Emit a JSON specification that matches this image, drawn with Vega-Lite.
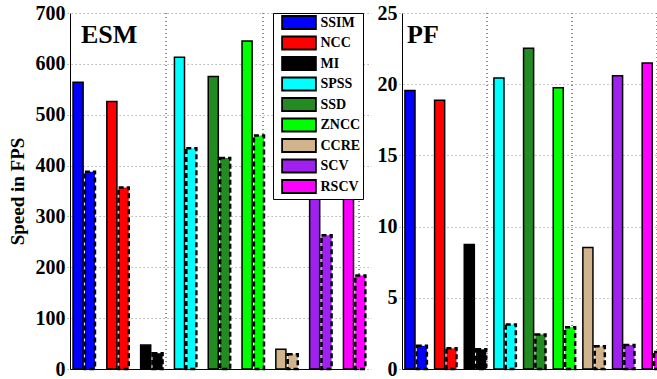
{
  "$schema": "https://vega.github.io/schema/vega-lite/v6.json",
  "padding": {"left": 8, "top": 3, "right": 0, "bottom": 0},
  "background": "white",
  "config": {
    "view": {"stroke": null},
    "font": "Liberation Serif",
    "axis": {
      "labelFont": "Liberation Serif", "labelFontWeight": "bold", "labelFontSize": 20, "labelColor": "black",
      "titleFont": "Liberation Serif", "titleFontWeight": "bold", "titleFontSize": 19, "titleColor": "black",
      "domainColor": "black", "domainWidth": 1,
      "gridColor": "#8c8c8c", "gridDash": [1, 3], "gridOpacity": 1, "gridWidth": 1,
      "ticks": false, "labelPadding": 5
    },
    "rule": {"color": "#8c8c8c", "strokeDash": [1, 3], "strokeWidth": 1},
    "title": {"font": "Liberation Serif", "fontWeight": "bold", "fontSize": 26, "color": "black"}
  },
  "datasets": {
    "speeds": [
      {"tracker": "ESM", "method": "SSIM", "kind": "solid", "fps": 564},
      {"tracker": "ESM", "method": "NCC", "kind": "solid", "fps": 526},
      {"tracker": "ESM", "method": "MI", "kind": "solid", "fps": 47},
      {"tracker": "ESM", "method": "SPSS", "kind": "solid", "fps": 613},
      {"tracker": "ESM", "method": "SSD", "kind": "solid", "fps": 575},
      {"tracker": "ESM", "method": "ZNCC", "kind": "solid", "fps": 645},
      {"tracker": "ESM", "method": "CCRE", "kind": "solid", "fps": 39},
      {"tracker": "ESM", "method": "SCV", "kind": "solid", "fps": 354},
      {"tracker": "ESM", "method": "RSCV", "kind": "solid", "fps": 345},
      {"tracker": "ESM", "method": "SSIM", "kind": "dashed", "fps": 388},
      {"tracker": "ESM", "method": "NCC", "kind": "dashed", "fps": 357},
      {"tracker": "ESM", "method": "MI", "kind": "dashed", "fps": 31},
      {"tracker": "ESM", "method": "SPSS", "kind": "dashed", "fps": 434},
      {"tracker": "ESM", "method": "SSD", "kind": "dashed", "fps": 415},
      {"tracker": "ESM", "method": "ZNCC", "kind": "dashed", "fps": 459},
      {"tracker": "ESM", "method": "CCRE", "kind": "dashed", "fps": 29},
      {"tracker": "ESM", "method": "SCV", "kind": "dashed", "fps": 263},
      {"tracker": "ESM", "method": "RSCV", "kind": "dashed", "fps": 184},
      {"tracker": "PF", "method": "SSIM", "kind": "solid", "fps": 19.56},
      {"tracker": "PF", "method": "NCC", "kind": "solid", "fps": 18.88},
      {"tracker": "PF", "method": "MI", "kind": "solid", "fps": 8.75},
      {"tracker": "PF", "method": "SPSS", "kind": "solid", "fps": 20.43},
      {"tracker": "PF", "method": "SSD", "kind": "solid", "fps": 22.53},
      {"tracker": "PF", "method": "ZNCC", "kind": "solid", "fps": 19.75},
      {"tracker": "PF", "method": "CCRE", "kind": "solid", "fps": 8.54},
      {"tracker": "PF", "method": "SCV", "kind": "solid", "fps": 20.59},
      {"tracker": "PF", "method": "RSCV", "kind": "solid", "fps": 21.48},
      {"tracker": "PF", "method": "SSIM", "kind": "dashed", "fps": 1.63},
      {"tracker": "PF", "method": "NCC", "kind": "dashed", "fps": 1.45},
      {"tracker": "PF", "method": "MI", "kind": "dashed", "fps": 1.38},
      {"tracker": "PF", "method": "SPSS", "kind": "dashed", "fps": 3.13},
      {"tracker": "PF", "method": "SSD", "kind": "dashed", "fps": 2.43},
      {"tracker": "PF", "method": "ZNCC", "kind": "dashed", "fps": 2.94},
      {"tracker": "PF", "method": "CCRE", "kind": "dashed", "fps": 1.59},
      {"tracker": "PF", "method": "SCV", "kind": "dashed", "fps": 1.68},
      {"tracker": "PF", "method": "RSCV", "kind": "dashed", "fps": 1.19}
    ]
  },
  "spacing": 10,
  "resolve": {"legend": {"color": "independent"}},
  "hconcat": [
    {
      "width": 289,
      "height": 356,
      "title": {"text": "ESM", "anchor": "start", "frame": "group", "offset": -66, "dx": 11, "baseline": "alphabetic"},
      "data": {"name": "speeds"},
      "transform": [{"filter": "datum.tracker === 'ESM'"}],
      "resolve": {"scale": {"x": "independent"}, "axis": {"x": "independent"}},
      "layer": [
        {
          "mark": {"type": "rule"},
          "encoding": {"x": {"datum": 1, "type": "quantitative", "scale": {"domain": [0, 3]},
                             "axis": {"orient": "bottom", "grid": false, "labels": false, "ticks": false, "domain": true, "title": null}}}
        },
        {
          "mark": {"type": "rule"},
          "encoding": {"x": {"datum": 2, "type": "quantitative", "scale": {"domain": [0, 3]}, "axis": null}}
        },
        {
          "mark": {"type": "rule"},
          "encoding": {"x": {"datum": 3, "type": "quantitative", "scale": {"domain": [0, 3]}, "axis": null}}
        },
        {
          "mark": {"type": "bar", "stroke": "black"},
          "encoding": {
            "x": {"field": "method", "type": "nominal",
                  "sort": ["SSIM", "NCC", "MI", "SPSS", "SSD", "ZNCC", "CCRE", "SCV", "RSCV"],
                  "scale": {"range": [-2.9, 301.3], "paddingInner": 0, "paddingOuter": 0}, "axis": null},
            "xOffset": {"field": "kind", "type": "nominal", "sort": ["solid", "dashed"],
                        "scale": {"paddingInner": 0.15, "paddingOuter": 0.5}},
            "y": {"field": "fps", "type": "quantitative", "scale": {"domain": [0, 700], "nice": false},
                  "axis": {"title": "Speed in FPS", "values": [0, 100, 200, 300, 400, 500, 600, 700], "grid": true, "titlePadding": 8}},
            "color": {"field": "method", "type": "nominal",
                      "scale": {"domain": ["SSIM", "NCC", "MI", "SPSS", "SSD", "ZNCC", "CCRE", "SCV", "RSCV"],
                                "range": ["#0000ff", "#ff0000", "#000000", "#00ffff", "#228b22", "#00ff00", "#d2b48c", "#a020f0", "#ff00ff"]},
                      "legend": {"orient": "none", "legendX": 203, "legendY": 0, "title": null,
                                 "symbolType": "M-2.6,-1H2.6V1H-2.6Z", "symbolSize": 169,
                                 "symbolStrokeColor": "black", "symbolStrokeWidth": 1.8, "symbolOpacity": 1,
                                 "symbolOffset": 16.5, "labelOffset": 14,
                                 "labelFont": "Liberation Serif", "labelFontWeight": "bold", "labelFontSize": 14, "labelColor": "black",
                                 "strokeColor": "black", "fillColor": "white", "padding": 2, "rowPadding": -0.5}},
            "strokeDash": {"field": "kind", "type": "nominal", "scale": {"domain": ["solid", "dashed"], "range": [[1, 0], [5, 3]]}, "legend": null},
            "strokeWidth": {"field": "kind", "type": "nominal", "scale": {"domain": ["solid", "dashed"], "range": [1.5, 2.5]}, "legend": null}
          }
        }
      ]
    },
    {
      "width": 255,
      "height": 356,
      "title": {"text": "PF", "anchor": "start", "frame": "group", "offset": -66, "dx": 5, "baseline": "alphabetic"},
      "data": {"name": "speeds"},
      "transform": [{"filter": "datum.tracker === 'PF'"}],
      "resolve": {"scale": {"x": "independent"}, "axis": {"x": "independent"}},
      "layer": [
        {
          "mark": {"type": "rule"},
          "encoding": {"x": {"datum": 1, "type": "quantitative", "scale": {"domain": [0, 3]},
                             "axis": {"orient": "bottom", "grid": false, "labels": false, "ticks": false, "domain": true, "title": null}}}
        },
        {
          "mark": {"type": "rule"},
          "encoding": {"x": {"datum": 2, "type": "quantitative", "scale": {"domain": [0, 3]}, "axis": null}}
        },
        {
          "mark": {"type": "rule"},
          "encoding": {"x": {"datum": 3, "type": "quantitative", "scale": {"domain": [0, 3]}, "axis": null}}
        },
        {
          "mark": {"type": "bar", "stroke": "black"},
          "encoding": {
            "x": {"field": "method", "type": "nominal",
                  "sort": ["SSIM", "NCC", "MI", "SPSS", "SSD", "ZNCC", "CCRE", "SCV", "RSCV"],
                  "scale": {"range": [-3, 263.9], "paddingInner": 0, "paddingOuter": 0}, "axis": null},
            "xOffset": {"field": "kind", "type": "nominal", "sort": ["solid", "dashed"],
                        "scale": {"paddingInner": 0.15, "paddingOuter": 0.34}},
            "y": {"field": "fps", "type": "quantitative", "scale": {"domain": [0, 25], "nice": false},
                  "axis": {"title": null, "values": [0, 5, 10, 15, 20, 25], "grid": true}},
            "color": {"field": "method", "type": "nominal",
                      "scale": {"domain": ["SSIM", "NCC", "MI", "SPSS", "SSD", "ZNCC", "CCRE", "SCV", "RSCV"],
                                "range": ["#0000ff", "#ff0000", "#000000", "#00ffff", "#228b22", "#00ff00", "#d2b48c", "#a020f0", "#ff00ff"]},
                      "legend": null},
            "strokeDash": {"field": "kind", "type": "nominal", "scale": {"domain": ["solid", "dashed"], "range": [[1, 0], [5, 3]]}, "legend": null},
            "strokeWidth": {"field": "kind", "type": "nominal", "scale": {"domain": ["solid", "dashed"], "range": [1.5, 2.5]}, "legend": null}
          }
        }
      ]
    }
  ]
}
